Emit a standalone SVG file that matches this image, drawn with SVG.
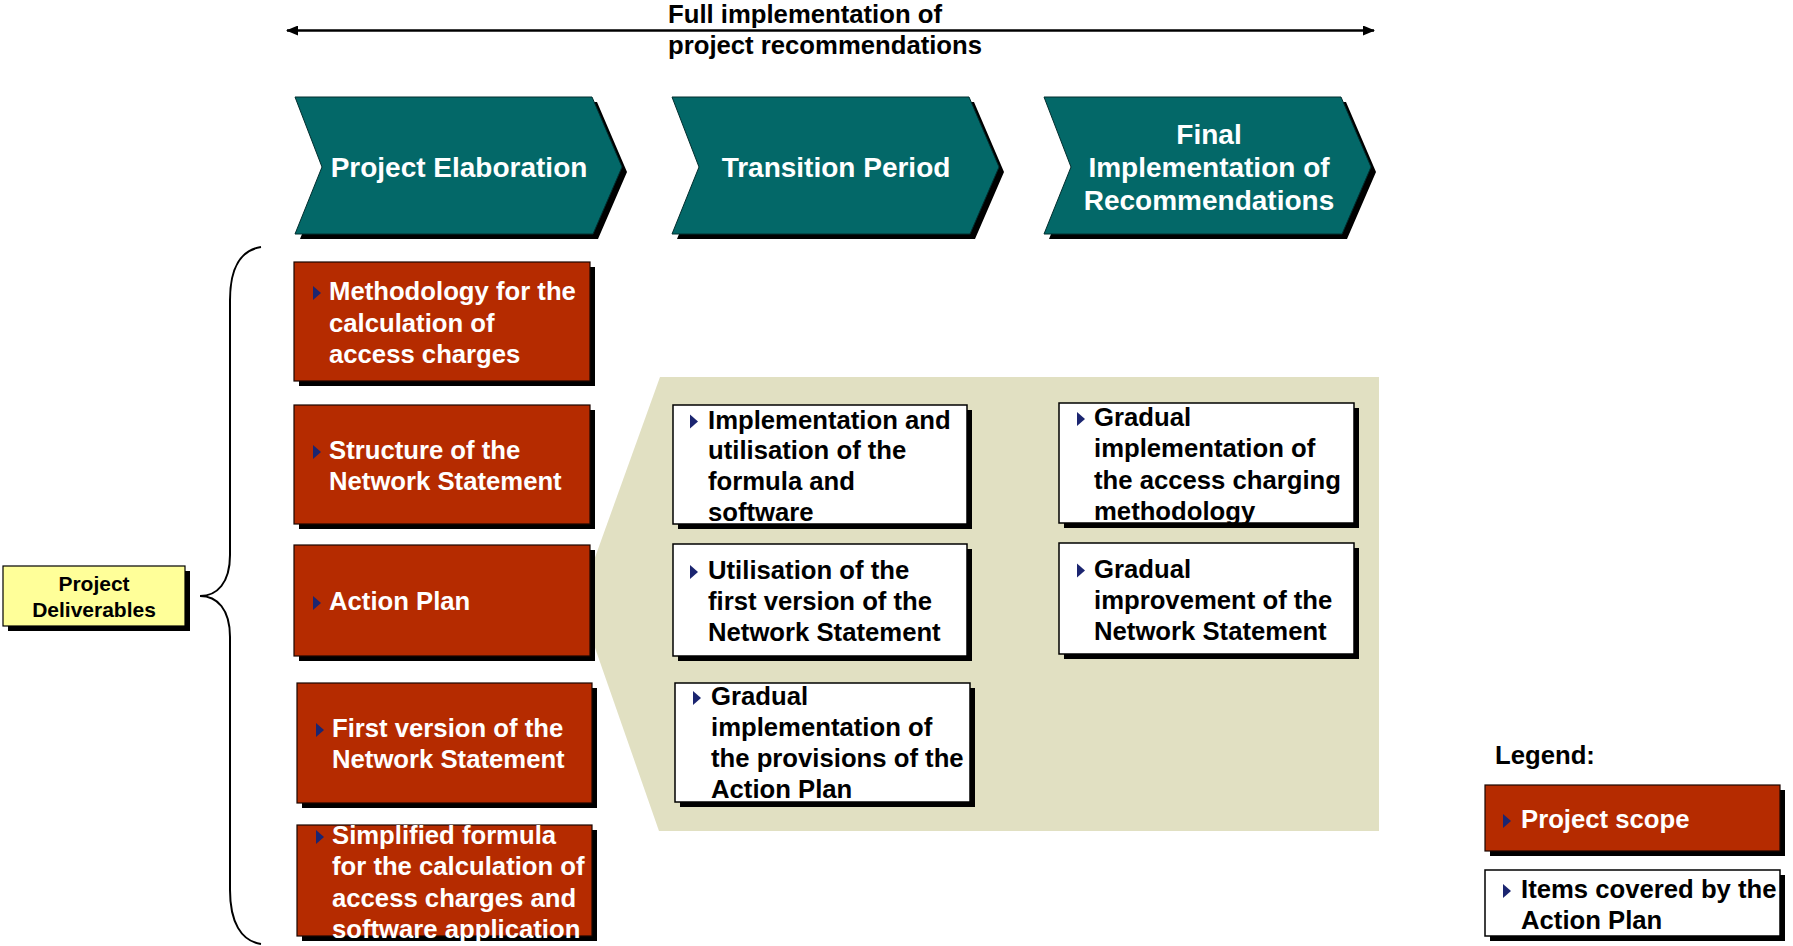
<svg xmlns="http://www.w3.org/2000/svg" xmlns:xlink="http://www.w3.org/1999/xlink" width="1793" height="946" viewBox="0 0 1793 946">
<style>
text{font-family:"Liberation Sans",Arial,sans-serif;font-weight:bold;}
.t{font-size:25.7px;}
.w{fill:#fff;}
.k{fill:#000;}
.ch{font-size:28px;fill:#fff;text-anchor:middle;}
.red{fill:#B52B00;stroke:#1a0500;stroke-width:1.2;}
.wht{fill:#fff;stroke:#000;stroke-width:1.5;}
.sh{fill:#000;}
.chev{fill:#036868;stroke:#012e2e;stroke-width:1;}
</style>
<defs>
<polygon id="b" points="0,-7 8,0 0,7" fill="#1B2570"/>
<marker id="ah" viewBox="0 0 12 10" refX="11" refY="5" markerWidth="12" markerHeight="10" markerUnits="userSpaceOnUse" orient="auto-start-reverse"><path d="M0,0 L12,5 L0,10 z" fill="#000"/></marker>
<polygon id="chevshape" points="0,0 297,0 327,70 298,137 0,137 27,70"/>
</defs>
<g id="connectors">
<line x1="287" y1="30.5" x2="1374" y2="30.5" stroke="#000" stroke-width="2.5" marker-start="url(#ah)" marker-end="url(#ah)"/>
<path d="M261,247 C241,250 230,268 230,300 L230,555 C230,583 217,596 200,596 C217,596 230,609 230,637 L230,890 C230,922 241,941 261,944" fill="none" stroke="#000" stroke-width="2"/>
</g>
<g id="title">
<text class="t k" x="668" y="22.5">Full implementation of</text>
<text class="t k" x="668" y="54">project recommendations</text>
</g>
<g id="chevron1">
<use xlink:href="#chevshape" x="300" y="102" class="sh"/>
<use xlink:href="#chevshape" x="295" y="97" class="chev"/>
<text class="ch" x="459" y="177">Project Elaboration</text>
</g>
<g id="chevron2">
<use xlink:href="#chevshape" x="677" y="102" class="sh"/>
<use xlink:href="#chevshape" x="672" y="97" class="chev"/>
<text class="ch" x="836" y="177">Transition Period</text>
</g>
<g id="chevron3">
<use xlink:href="#chevshape" x="1049" y="102" class="sh"/>
<use xlink:href="#chevshape" x="1044" y="97" class="chev"/>
<text class="ch" x="1209" y="144">Final</text>
<text class="ch" x="1209" y="177">Implementation of</text>
<text class="ch" x="1209" y="210">Recommendations</text>
</g>
<g id="deliverables">
<rect x="8" y="571" width="182" height="60" class="sh"/>
<rect x="3" y="566" width="182" height="60" fill="#FFFF99" stroke="#000" stroke-width="1.2"/>
<text x="94" y="591" font-size="21" text-anchor="middle" class="k">Project</text>
<text x="94" y="617" font-size="21" text-anchor="middle" class="k">Deliverables</text>
</g>
<g id="action-plan-area">
<polygon points="660,377 1379,377 1379,831 659,831 579,602" fill="#E1E0C2"/>
</g>
<g id="r1">
<rect x="299" y="267" width="296" height="119" class="sh"/>
<rect x="294" y="262" width="296" height="119" class="red"/>
<use xlink:href="#b" x="313" y="293"/>
<text class="t w" x="329" y="300">Methodology for the</text>
<text class="t w" x="329" y="331.5">calculation of</text>
<text class="t w" x="329" y="363">access charges</text>
</g>
<g id="r2">
<rect x="299" y="410" width="296" height="119" class="sh"/>
<rect x="294" y="405" width="296" height="119" class="red"/>
<use xlink:href="#b" x="313" y="452"/>
<text class="t w" x="329" y="459">Structure of the</text>
<text class="t w" x="329" y="490">Network Statement</text>
</g>
<g id="r3">
<rect x="299" y="550" width="296" height="111" class="sh"/>
<rect x="294" y="545" width="296" height="111" class="red"/>
<use xlink:href="#b" x="313" y="603"/>
<text class="t w" x="329" y="610">Action Plan</text>
</g>
<g id="r4">
<rect x="302" y="688" width="295" height="120" class="sh"/>
<rect x="297" y="683" width="295" height="120" class="red"/>
<use xlink:href="#b" x="316" y="730"/>
<text class="t w" x="332" y="737">First version of the</text>
<text class="t w" x="332" y="768">Network Statement</text>
</g>
<g id="r5">
<rect x="302" y="830" width="295" height="111" class="sh"/>
<rect x="297" y="825" width="295" height="111" class="red"/>
<use xlink:href="#b" x="316" y="837"/>
<text class="t w" x="332" y="844">Simplified formula</text>
<text class="t w" x="332" y="875.3">for the calculation of</text>
<text class="t w" x="332" y="906.6">access charges and</text>
<text class="t w" x="332" y="938">software application</text>
</g>
<g id="w1">
<rect x="678" y="410" width="294" height="119" class="sh"/>
<rect x="673" y="405" width="294" height="119" class="wht"/>
<use xlink:href="#b" x="690" y="421.5"/>
<text class="t k" x="708" y="428.5">Implementation and</text>
<text class="t k" x="708" y="459.3">utilisation of the</text>
<text class="t k" x="708" y="490">formula and</text>
<text class="t k" x="708" y="520.7">software</text>
</g>
<g id="w2">
<rect x="678" y="549" width="294" height="112" class="sh"/>
<rect x="673" y="544" width="294" height="112" class="wht"/>
<use xlink:href="#b" x="690" y="572"/>
<text class="t k" x="708" y="579">Utilisation of the</text>
<text class="t k" x="708" y="610">first version of the</text>
<text class="t k" x="708" y="641">Network Statement</text>
</g>
<g id="w3">
<rect x="680" y="688" width="295" height="119" class="sh"/>
<rect x="675" y="683" width="295" height="119" class="wht"/>
<use xlink:href="#b" x="693" y="698"/>
<text class="t k" x="711" y="705">Gradual</text>
<text class="t k" x="711" y="736">implementation of</text>
<text class="t k" x="711" y="767">the provisions of the</text>
<text class="t k" x="711" y="798">Action Plan</text>
</g>
<g id="w4">
<rect x="1064" y="408" width="295" height="120" class="sh"/>
<rect x="1059" y="403" width="295" height="120" class="wht"/>
<use xlink:href="#b" x="1077" y="419"/>
<text class="t k" x="1094" y="426">Gradual</text>
<text class="t k" x="1094" y="457.3">implementation of</text>
<text class="t k" x="1094" y="488.6">the access charging</text>
<text class="t k" x="1094" y="520">methodology</text>
</g>
<g id="w5">
<rect x="1064" y="548" width="295" height="111" class="sh"/>
<rect x="1059" y="543" width="295" height="111" class="wht"/>
<use xlink:href="#b" x="1077" y="570.5"/>
<text class="t k" x="1094" y="577.5">Gradual</text>
<text class="t k" x="1094" y="608.7">improvement of the</text>
<text class="t k" x="1094" y="640">Network Statement</text>
</g>
<g id="legend">
<text class="t k" x="1495" y="763.5">Legend:</text>
<rect x="1490" y="790" width="295" height="66" class="sh"/>
<rect x="1485" y="785" width="295" height="66" class="red"/>
<use xlink:href="#b" x="1503" y="821"/>
<text class="t w" x="1521" y="828">Project scope</text>
<rect x="1490" y="875" width="295" height="66" class="sh"/>
<rect x="1485" y="870" width="295" height="66" class="wht"/>
<use xlink:href="#b" x="1503" y="891"/>
<text class="t k" x="1521" y="898">Items covered by the</text>
<text class="t k" x="1521" y="928.5">Action Plan</text>
</g>
</svg>
